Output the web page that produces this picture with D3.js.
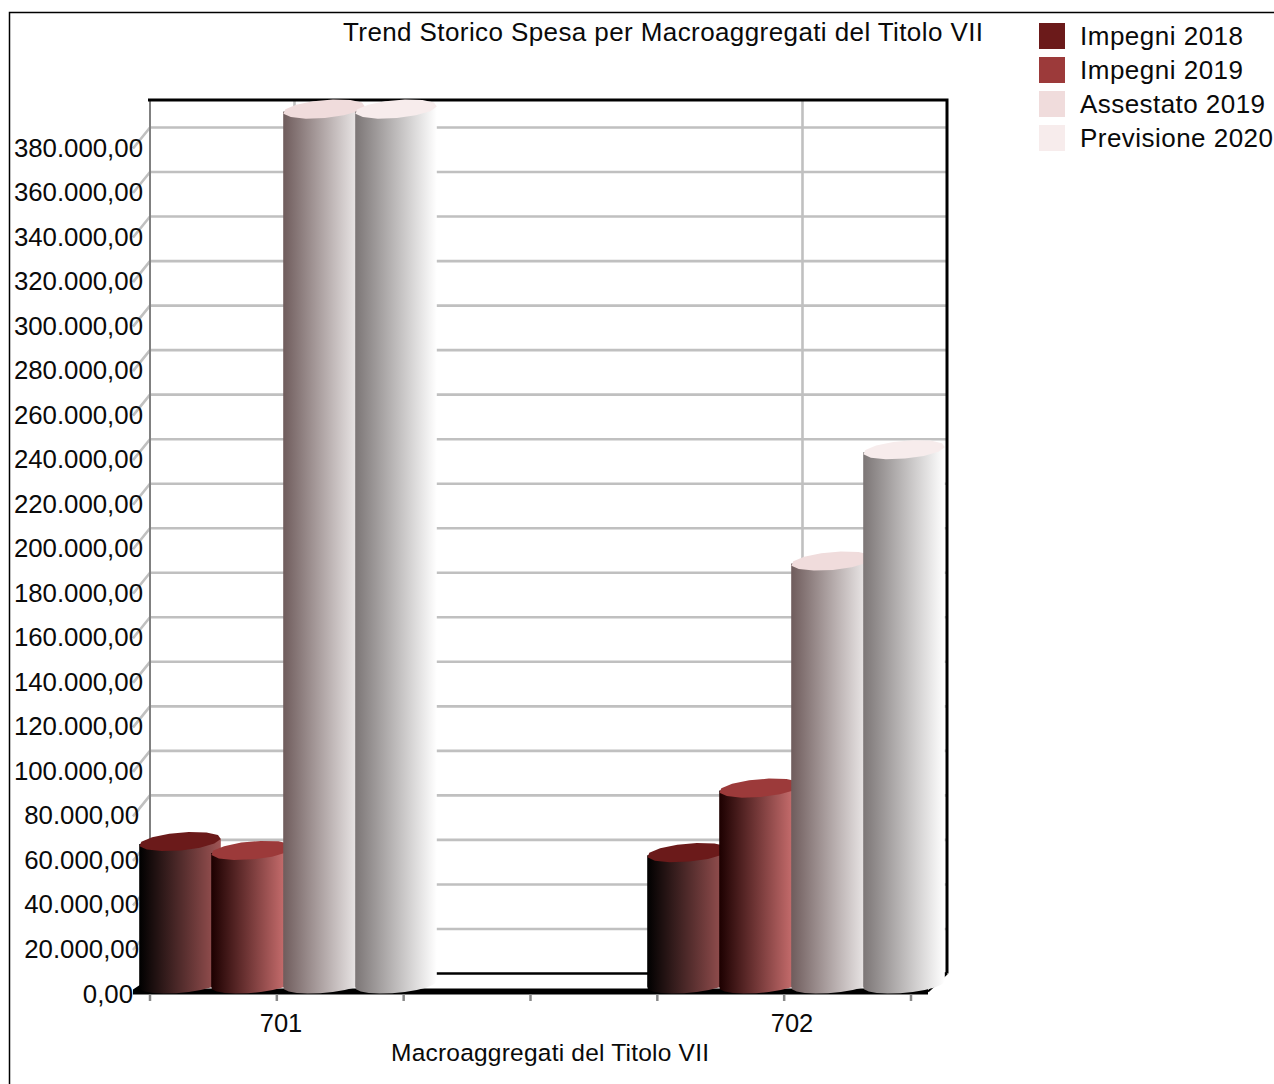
<!DOCTYPE html>
<html><head><meta charset="utf-8">
<script src="https://cdn.jsdelivr.net/npm/d3@7"></script>
<style>html,body{margin:0;padding:0;background:#fff;overflow:hidden}svg{display:block}
text{font-family:"Liberation Sans",Arial,sans-serif;fill:#0a0a0a}</style></head><body>
<script>
const categories = ["701", "702"];
const seriesNames = ["Impegni 2018", "Impegni 2019", "Assestato 2019", "Previsione 2020"];
const impegni2018 = [64000, 59000];
const impegni2019 = [60000, 88000];
const assestato2019 = [393000, 190000];
const previsione2020 = [393000, 240000];
const seriesValues = [impegni2018, impegni2019, assestato2019, previsione2020];
const yTicks = d3.range(0, 380001, 20000);
const xTickSlots = [0, 1, 2, 3, 4, 5, 6];
const swatchColors = ["#6b1a1a", "#9c3a3a", "#f0dcdc", "#f7ecec"];
const shadeStart = ["#000000", "#1c0000", "#6f5c5c", "#7c7676"];
const shadeEnd = ["#a05555", "#d87878", "#f6f4f4", "#ffffff"];

const W = 1274, H = 1084;
const svg = d3.select("body").append("svg").attr("width", W).attr("height", H);
const defs = svg.append("defs");
// plot geometry: back plane and the depth offset of the pseudo-3D floor
const backY = d3.scaleLinear().domain([0, 380000]).range([973.5, 127.5]);
const depthX = -17, depthY = 21;
const wall = {left: 150, right: 947, top: 100};
const groupX = d3.scaleLinear().domain([0, 1]).range([139, 647]);
const barStep = 72, capW = 82;
const midY = v => backY(v) + depthY / 2;
const tickX = d3.scaleLinear().domain([0, 6]).range([150, 911]);
const fmt = v => d3.format(",.2f")(v).replace(/,/g, "#").replace(".", ",").replace(/#/g, ".");

// page frame
svg.append("path").attr("d", `M9.5,1084V12.5H${W}`).attr("fill", "none").attr("stroke", "#000").attr("stroke-width", 1.5);

// gridlines
const grid = svg.append("g").attr("fill", "none").attr("stroke", "#c0c0c0").attr("stroke-width", 2.6);
grid.selectAll("path.h").data(yTicks.filter(v => v > 0)).join("path").attr("class", "h")
  .attr("d", v => `M${wall.left + depthX},${backY(v) + depthY}L${wall.left},${backY(v)}H${wall.right}`);
grid.selectAll("line.v").data(categories).join("line").attr("class", "v")
  .attr("x1", (d, i) => groupX(i) + 155.5).attr("x2", (d, i) => groupX(i) + 155.5)
  .attr("y1", wall.top).attr("y2", backY(0));

// walls and floor
svg.append("line").attr("x1", wall.left).attr("x2", wall.left).attr("y1", wall.top).attr("y2", backY(0)).attr("stroke", "#808080").attr("stroke-width", 2);
svg.append("path").attr("fill", "none").attr("stroke", "#000").attr("stroke-width", 3)
  .attr("d", `M${wall.left - 2},${wall.top}H${wall.right}V${backY(0)}`);
svg.append("line").attr("x1", wall.left).attr("x2", wall.right).attr("y1", backY(0)).attr("y2", backY(0)).attr("stroke", "#000").attr("stroke-width", 2.5);
svg.append("path").attr("fill", "none").attr("stroke", "#000").attr("stroke-width", 2)
  .attr("d", `M${wall.right},${backY(0)}L${wall.right - 19},${backY(0) + 18}`);
svg.append("path").attr("fill", "#000")
  .attr("d", `M${wall.left + depthX},${backY(0) + 16}L${wall.left - 8},${backY(0) + 10}L${wall.left},${backY(0) + 15}H${wall.right - 19}V${backY(0) + 21}H${wall.left + depthX}Z`);

// x ticks
svg.append("g").attr("stroke", "#888").attr("stroke-width", 2.5).selectAll("line").data(xTickSlots).join("line")
  .attr("x1", tickX).attr("x2", tickX).attr("y1", 994).attr("y2", 1001);

// cylinders
seriesNames.forEach((s, i) => {
  const g = defs.append("linearGradient").attr("id", "shade" + i);
  g.append("stop").attr("offset", 0).attr("stop-color", shadeStart[i]);
  g.append("stop").attr("offset", 1).attr("stop-color", shadeEnd[i]);
});
const ring = (cx, cy, from, to, n) => d3.range(n + 1).map(k => {
  const t = from + (to - from) * k / n;
  return [cx + 40.8 * Math.cos(t) - 4 * Math.sin(t), cy + 9.3 * Math.sin(t) - 2.5 * Math.cos(t)];
});
const line = d3.line();
const bars = categories.flatMap((c, gi) => seriesValues.map((vals, si) => ({gi, si, v: vals[gi]})));
const barG = svg.append("g").selectAll("g").data(bars).join("g");
barG.append("path").attr("fill", d => `url(#shade${d.si})`).attr("d", d => {
  const cx = groupX(d.gi) + d.si * barStep + capW / 2;
  const right = ring(cx, midY(d.v), 0, 0, 1)[0], left = ring(cx, midY(d.v), Math.PI, Math.PI, 1)[0];
  const base = ring(cx, midY(0), Math.PI, 0, 10);
  return line([left, ...base, right]) + "Z";
});
barG.append("path").attr("fill", d => swatchColors[d.si]).attr("d", d => {
  const cx = groupX(d.gi) + d.si * barStep + capW / 2;
  return line(ring(cx, midY(d.v), 0, 2 * Math.PI, 13)) + "Z";
});

// y labels
svg.append("g").attr("font-size", 25.8).selectAll("text").data(yTicks).join("text")
  .attr("text-anchor", "end").attr("dominant-baseline", "central")
  .attr("x", v => v >= 100000 ? 143 : v > 0 ? 139 : 133)
  .attr("y", v => backY(v) + 20).text(fmt);

// x labels
svg.append("g").attr("font-size", 25.5).selectAll("text").data(categories).join("text")
  .attr("text-anchor", "middle").attr("x", (d, i) => groupX(i) + 142 + i * 3).attr("y", 1032).text(d => d);
svg.append("text").attr("x", 391).attr("y", 1061).attr("font-size", 24.5).attr("textLength", 318)
  .attr("lengthAdjust", "spacing").text("Macroaggregati del Titolo VII");
svg.append("text").attr("x", 343).attr("y", 41).attr("font-size", 26).attr("textLength", 640)
  .attr("lengthAdjust", "spacing").text("Trend Storico Spesa per Macroaggregati del Titolo VII");

// legend
const legendRow = d3.scaleLinear().domain([0, 3]).range([23, 125]);
const legendWidths = [163, 163, 185, 193];
const leg = svg.append("g").selectAll("g").data(seriesNames).join("g");
leg.append("rect").attr("x", 1039).attr("y", (d, i) => legendRow(i)).attr("width", 26).attr("height", 26)
  .attr("fill", (d, i) => swatchColors[i]);
leg.append("text").attr("x", 1080).attr("y", (d, i) => legendRow(i) + 22).attr("font-size", 26)
  .attr("textLength", (d, i) => legendWidths[i]).attr("lengthAdjust", "spacing").text(d => d);
</script></body></html>
